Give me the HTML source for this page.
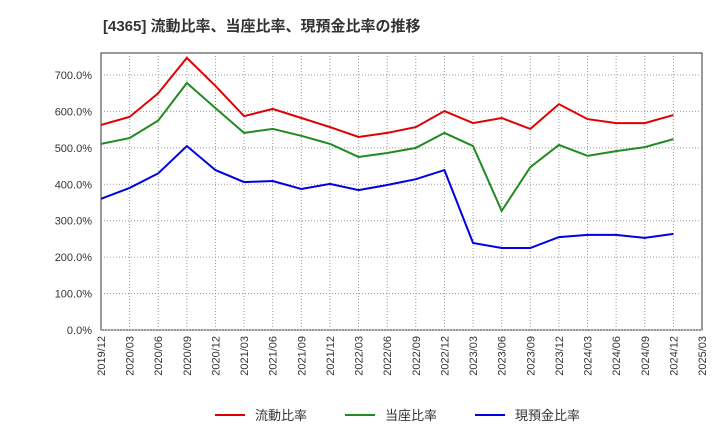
<!DOCTYPE html>
<html><head><meta charset="utf-8"><style>
body{margin:0;background:#fff;font-family:"Liberation Sans","Noto Sans CJK JP",sans-serif}
</style></head><body>
<svg id="c" width="720" height="440" xmlns="http://www.w3.org/2000/svg">
<text x="103" y="31" font-size="15" font-weight="bold" fill="#333">[4365]  流動比率、当座比率、現預金比率の推移</text>
</svg>
<script>
const categories=["2019/12","2020/03","2020/06","2020/09","2020/12","2021/03","2021/06","2021/09","2021/12","2022/03","2022/06","2022/09","2022/12","2023/03","2023/06","2023/09","2023/12","2024/03","2024/06","2024/09","2024/12","2025/03"];
const currentRatio=[563,585,650,747,670,587,607,582,557,530,541,557,601,568,582,552,620,579,568,568,590];
const quickRatio=[511,527,575,678,609,541,552,533,511,475,486,500,541,505,327,447,508,478,491,502,524];
const cashRatio=[360,390,430,505,439,406,409,387,401,384,398,414,439,239,225,225,255,261,261,253,264];
const yTicks=[0,100,200,300,400,500,600,700];
const NS="http://www.w3.org/2000/svg",svg=document.getElementById('c');
const L=101,R=702,T=53,B=330,step=(R-L)/(categories.length-1);
const x=i=>L+i*step, y=v=>B-v*(B-75)/700;
function mk(t,a){const e=document.createElementNS(NS,t);for(const k in a)e.setAttribute(k,a[k]);svg.appendChild(e);return e;}
let r=mk('rect',{x:L,y:T,width:R-L,height:B-T,fill:'none',stroke:'#333'});


yTicks.forEach(v=>{
 let g=mk('line',{x1:L,x2:R,y1:y(v),y2:y(v),stroke:'#999','stroke-dasharray':'1,2'});
 
 
 let t=mk('text',{x:L-9,y:y(v)+4,'text-anchor':'end','font-size':'11',fill:'#333'});
 t.textContent=v.toFixed(1)+'%';
 
 
});
categories.forEach((c,i)=>{
 if(i>0&&i<categories.length-1){let g=mk('line',{x1:x(i),x2:x(i),y1:T,y2:B,stroke:'#999','stroke-dasharray':'1,2'});
 
 }
 let t=mk('text',{transform:`translate(${x(i)+4},${B+6}) rotate(-90)`,'text-anchor':'end','font-size':'11',fill:'#333'});
 t.textContent=c;
 
 
});
const series=[[currentRatio,'#e00000','current-ratio-line'],[quickRatio,'#228b22','quick-ratio-line'],[cashRatio,'#0000e0','cash-ratio-line']];
series.forEach(([d,col,n])=>{
 let p=mk('polyline',{points:d.map((v,i)=>x(i)+','+y(v)).join(' '),fill:'none',stroke:col,'stroke-width':'2'});
 
 
});
const leg=[['流動比率','#e00000',215],['当座比率','#228b22',345],['現預金比率','#0000e0',475]];
leg.forEach(([t,col,lx])=>{
 let l=mk('line',{x1:lx,x2:lx+30,y1:415,y2:415,stroke:col,'stroke-width':'2'});
 
 
 let tx=mk('text',{x:lx+40,y:420,'font-size':'13',fill:'#333'});
 tx.textContent=t;
 
 
});
</script>
</body></html>
